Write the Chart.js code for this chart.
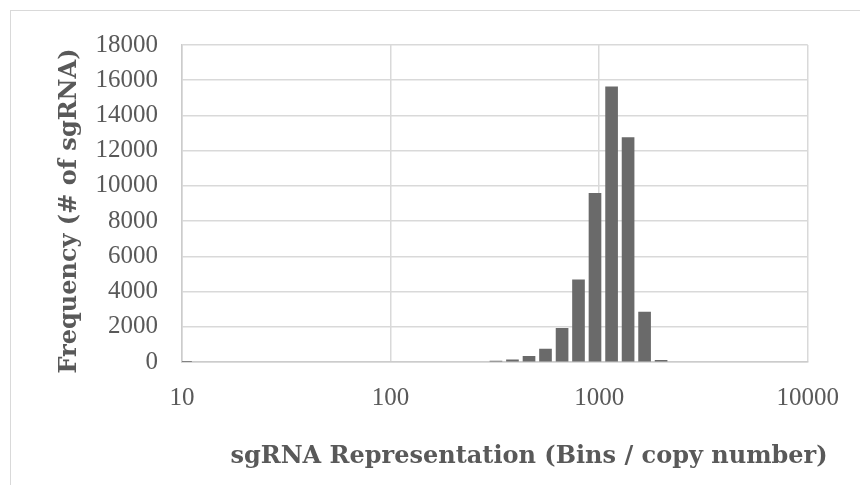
<!DOCTYPE html>
<html>
<head>
<meta charset="utf-8">
<script src="https://cdn.jsdelivr.net/npm/chart.js@4"></script>
<style>
  html, body { margin: 0; padding: 0; background: #fff; }
  #wrap { position: relative; width: 860px; height: 485px; overflow: hidden; }
  #frame { position: absolute; left: 10px; top: 10px; width: 860px; height: 490px; border: 1px solid #d9d9d9; box-sizing: border-box; }
  canvas { position: absolute; left: 0; top: 0; }
</style>
</head>
<body>
<div id="wrap">
  <div id="frame"></div>
  <canvas id="histChart" width="860" height="485"></canvas>
</div>
<script>
// bin centres (copy number) and counts
const bins = [10.4, 320, 384, 461, 553, 664, 796, 955, 1147, 1376, 1651, 1981];
const counts = [40, 50, 130, 320, 740, 1910, 4670, 9575, 15630, 12750, 2840, 90];
const xTicks = [10, 100, 1000, 10000];
const yMax = 18000;
const yStep = 2000;

const xTitle = 'sgRNA Representation (Bins / copy number)';
const yTitle = 'Frequency (# of sgRNA)';

const textColor = '#595959';
const gridColor = '#d9d9d9';

const axisTitles = {
    id: 'axisTitles',
    afterDraw(chart) {
        const ctx = chart.ctx;
        ctx.save();
        ctx.fillStyle = textColor;
        ctx.font = 'bold 24px "DejaVu Serif"';
        ctx.textAlign = 'center';
        ctx.textBaseline = 'middle';
        ctx.fillText(xTitle, 529, 457);
        ctx.translate(70, 211);
        ctx.rotate(-Math.PI / 2);
        ctx.fillText(yTitle, 0, 0);
        ctx.restore();
    }
};

document.addEventListener('DOMContentLoaded', () => {
    const ctx = document.getElementById('histChart').getContext('2d');

    const data = {
        datasets: [{
            label: 'Frequency',
            data: bins.map((b, i) => ({ x: b, y: counts[i] })),
            backgroundColor: '#6a6a6a',
            borderWidth: 0,
            barThickness: 12
        }]
    };

    const config = {
        type: 'bar',
        data: data,
        options: {
            responsive: false,
            animation: false,
            layout: { padding: { left: 0, top: 45, right: 50, bottom: 0 } },
            plugins: {
                legend: { display: false },
                tooltip: { enabled: false }
            },
            scales: {
                x: {
                    type: 'logarithmic',
                    min: 10,
                    max: 10000,
                    offset: false,
                    afterBuildTicks: (scale) => {
                        scale.ticks = xTicks.map(v => ({ value: v }));
                    },
                    afterFit: (scale) => { scale.height = 123; },
                    grid: { color: gridColor, lineWidth: 1.5, drawTicks: false, offset: false },
                    border: { color: '#cccccc', width: 1.5 },
                    ticks: {
                        padding: 21,
                        color: textColor,
                        font: { family: '"Liberation Serif"', size: 25 },
                        maxRotation: 0,
                        callback: (v) => String(v)
                    }
                },
                y: {
                    min: 0,
                    max: yMax,
                    afterFit: (scale) => { scale.width = 182; },
                    grid: { color: gridColor, lineWidth: 1.5, drawTicks: false },
                    border: { color: '#cccccc', width: 1.5 },
                    ticks: {
                        stepSize: yStep,
                        padding: 24,
                        color: textColor,
                        font: { family: '"Liberation Serif"', size: 25 },
                        callback: (v) => String(v)
                    }
                }
            }
        },
        plugins: [axisTitles]
    };

    new Chart(ctx, config);
});
</script>
</body>
</html>
